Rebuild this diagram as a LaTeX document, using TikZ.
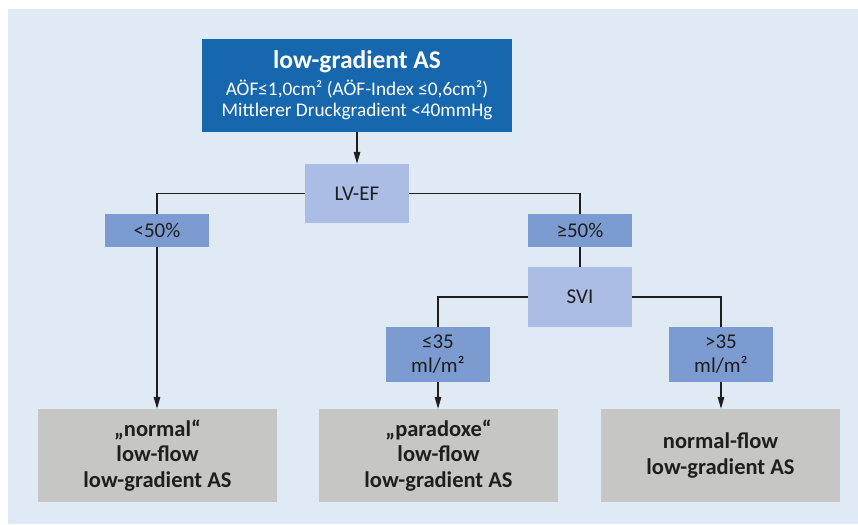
\documentclass[tikz,border=0pt]{standalone}
\usepackage{fontspec}
\setmainfont{Carlito}
\usetikzlibrary{arrows.meta,positioning,calc}
\definecolor{Panel}{HTML}{E0EAF4}
\definecolor{DeepBlue}{HTML}{1767AE}
\definecolor{PaleBlue}{HTML}{ABBDE5}
\definecolor{MidBlue}{HTML}{7C9CD1}
\definecolor{Stone}{HTML}{C6C6C5}
\definecolor{Ink}{HTML}{1E1E1E}
\tikzset{
 box/.style={inner sep=0pt, align=center, text=Ink, minimum width=104pt},
 headbox/.style={box, fill=DeepBlue, text=white, minimum width=310pt, minimum height=93pt, font=\fontsize{19.3}{21.5}\selectfont},
 askbox/.style={box, fill=PaleBlue, font=\fontsize{21}{24}\selectfont},
 condbox/.style={box, fill=MidBlue, font=\fontsize{21}{24}\selectfont},
 resultbox/.style={box, fill=Stone, minimum width=239pt, minimum height=93pt, font=\bfseries\fontsize{22.5}{25.5}\selectfont},
 link/.style={draw=Ink, line width=1.5pt},
 arrow/.style={link, -{Triangle[length=12pt,width=6.5pt]}}
}
\begin{document}
\begin{tikzpicture}[x=1pt,y=-1pt]
\useasboundingbox (0,0) rectangle (858,524);
\fill[Panel] (8,9) rectangle (858,524);

\node[headbox] (head) at (357,85.5) {{\bfseries\fontsize{25.5}{28}\selectfont low-gradient AS}\\[5pt]
  AÖF≤1,0cm² (AÖF-Index ≤0,6cm²)\\
  Mittlerer Druckgradient <40mmHg};
\node[askbox, minimum height=59pt] (lvef) at (357,193.5) {LV-EF};
\node[condbox, minimum height=33pt] (low) at (157,230.5) {<50\%};
\node[condbox, minimum height=33pt] (high) at (580,230.5) {≥50\%};
\node[askbox, minimum height=60pt] (svi) at (580,297) {SVI};
\node[condbox, minimum height=55pt] (svilow) at (438,354.5) {≤35\\ml/m²};
\node[condbox, minimum height=55pt] (svihigh) at (721,354.5) {>35\\ml/m²};
% outcomes
\node[resultbox] (normal) at (157.5,455.5) {„normal“\\low-flow\\low-gradient AS};
\node[resultbox] (paradox) at (438.5,455.5) {„paradoxe“\\low-flow\\low-gradient AS};
\node[resultbox] (nflow) at (720.5,455.5) {normal-flow\\low-gradient AS};

\draw[arrow] (head) -- (lvef);
\draw[link] (lvef.west) -| (low.north);
\draw[link] (lvef.east) -| (high.north);
\draw[link] (high) -- (svi);
\draw[link] (svi.west) -| (svilow.north);
\draw[link] (svi.east) -| (svihigh.north);
\draw[arrow] (low) -- (low |- normal.north);
\draw[arrow] (svilow) -- (svilow |- paradox.north);
\draw[arrow] (svihigh) -- (svihigh |- nflow.north);
\end{tikzpicture}
\end{document}
